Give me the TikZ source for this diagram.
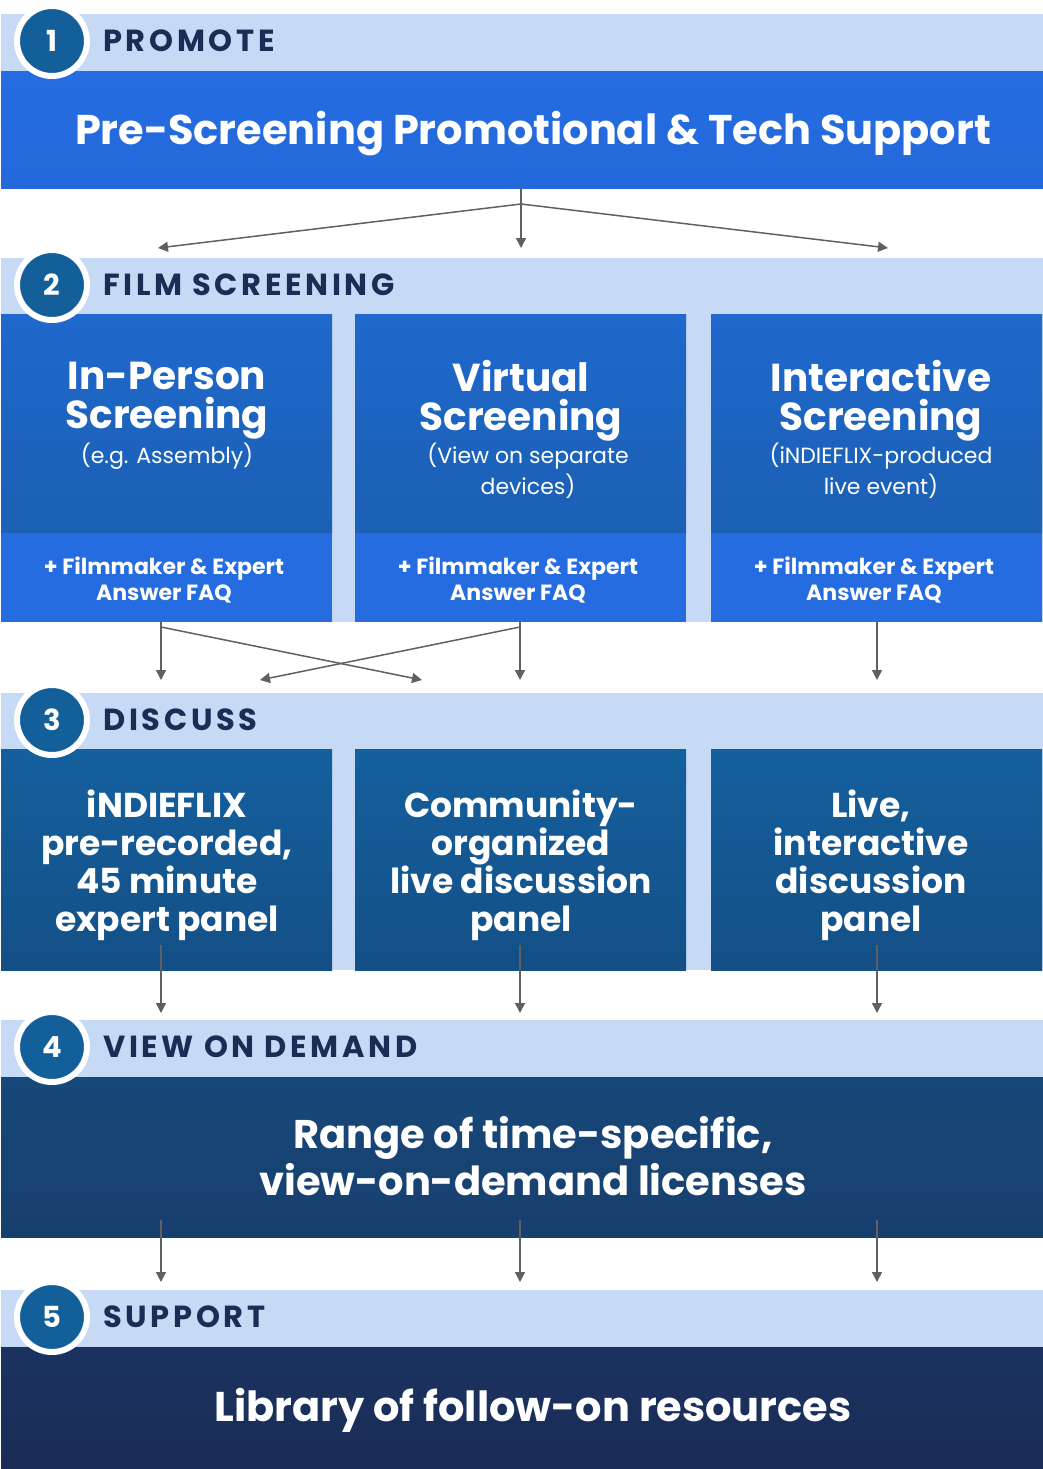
\documentclass[tikz,border=0pt]{standalone}
\usepackage{fontspec}
\setmainfont{Poppins}
\usepackage{tikz}
\usetikzlibrary{arrows.meta,positioning,calc}
\definecolor{bandblue}{HTML}{C6D9F5}
\definecolor{brightblue}{HTML}{256CE1}
\definecolor{brighttop}{HTML}{256CE1}
\definecolor{brightbot}{HTML}{2369DB}
\definecolor{scrtop}{HTML}{1F68CD}
\definecolor{scrbot}{HTML}{1B60B3}
\definecolor{paneltop}{HTML}{14609E}
\definecolor{panelbot}{HTML}{144F86}
\definecolor{vodtop}{HTML}{17487A}
\definecolor{vodbot}{HTML}{173F6D}
\definecolor{suptop}{HTML}{1B3261}
\definecolor{supbot}{HTML}{1A2C55}
\definecolor{numblue}{HTML}{135F99}
\definecolor{navy}{HTML}{1B2D55}
\definecolor{arrowgray}{HTML}{606060}
\tikzset{
  band/.style={
    rectangle, fill=bandblue, anchor=north west,
    minimum width=1042pt, inner sep=0pt
  },
  widebox/.style={
    rectangle, top color=#1top, bottom color=#1bot, anchor=north west,
    minimum width=1042pt, inner sep=0pt
  },
  colbox/.style={
    rectangle, top color=#1top, bottom color=#1bot, anchor=north west,
    minimum width=331pt, inner sep=0pt
  },
  faqbox/.style={
    rectangle, fill=brightblue, anchor=north west,
    minimum width=331pt, minimum height=89pt, inner sep=0pt
  },
  stepnum/.style={
    circle, fill=numblue, draw=white, line width=6pt,
    minimum size=70pt, inner sep=0pt,
    text=white, font=\fontsize{29}{29}\selectfont\bfseries
  },
  stephead/.style={
    anchor=west, inner sep=0pt, text=navy,
    font=\fontsize{30.5}{30}\selectfont\bfseries\addfontfeatures{LetterSpace=12}
  },
  bigtext/.style={
    text=white, align=center, inner sep=0pt,
    font=\fontsize{#1}{47}\selectfont\bfseries
  },
  bigtext/.default=41.5,
  coltitle/.style={
    text=white, align=center, inner sep=0pt,
    font=\fontsize{39}{39}\selectfont\bfseries
  },
  colsub/.style={
    text=white, align=center, inner sep=0pt,
    font=\fontsize{22}{31}\selectfont
  },
  faqtext/.style={
    text=white, align=center, inner sep=0pt,
    font=\fontsize{22}{26}\selectfont\bfseries
  },
  paneltext/.style={
    text=white, align=center, inner sep=0pt,
    font=\fontsize{34.5}{38}\selectfont\bfseries
  },
  flow/.style={
    -{Triangle[length=10pt,width=10pt]}, line width=1.5pt, draw=arrowgray
  },
}

\begin{document}
\begin{tikzpicture}[x=1pt,y=-1pt]
  \useasboundingbox (0,0) rectangle (1043,1469);

  \node[band, minimum height=57pt] (band1) at (1,14) {};
  \node[band, minimum height=364pt] (band2) at (1,258) {};
  \node[band, minimum height=277pt] (band3) at (1,693) {};
  \node[band, minimum height=57pt] (band4) at (1,1020) {};
  \node[band, minimum height=57pt] (band5) at (1,1290) {};

  % step 1
  \node[widebox=bright, minimum height=117pt] (promote) at (1,71) {};
  \node[bigtext] (promotetxt) at (533,134) {Pre-Screening Promotional \& Tech Support};

  % step 2
  \node[colbox=scr, minimum height=219pt] (scrA) at (1,314) {};
  \node[colbox=scr, minimum height=219pt] (scrB) at (355,314) {};
  \node[colbox=scr, minimum height=219pt] (scrC) at (711,314) {};
  \node[coltitle] (titA) at (167,401) {In-Person\\Screening};
  \node[coltitle] (titB) at (521,401) {Virtual\\Screening};
  \node[coltitle] (titC) at (881,401) {Interactive\\Screening};
  \node[colsub] (subA) at (167,456) {(e.g. Assembly)};
  \node[colsub] (subB) at (528,471) {(View on separate\\devices)};
  \node[colsub] (subC) at (881,471) {(iNDIEFLIX-produced\\live event)};
  \node[faqbox] (faqA) at (1,533) {};
  \node[faqbox] (faqB) at (355,533) {};
  \node[faqbox] (faqC) at (711,533) {};
  \node[faqtext] (faqtxtA) at (164,580) {+ Filmmaker \& Expert\\Answer FAQ};
  \node[faqtext] (faqtxtB) at (518,580) {+ Filmmaker \& Expert\\Answer FAQ};
  \node[faqtext] (faqtxtC) at (874,580) {+ Filmmaker \& Expert\\Answer FAQ};

  % step 3
  \node[colbox=panel, minimum height=221pt] (panelA) at (1,749) {};
  \node[colbox=panel, minimum height=221pt] (panelB) at (355,749) {};
  \node[colbox=panel, minimum height=221pt] (panelC) at (711,749) {};
  \node[paneltext] (paneltxtA) at (167,865) {iNDIEFLIX\\pre-recorded,\\45 minute\\expert panel};
  \node[paneltext] (paneltxtB) at (521,865) {Community-\\organized\\live discussion\\panel};
  \node[paneltext] (paneltxtC) at (871,865) {Live,\\interactive\\discussion\\panel};

  % step 4
  \node[widebox=vod, minimum height=160pt] (vod) at (1,1077) {};
  \node[bigtext=40] (vodtxt) at (533,1156) {Range of time-specific,\\view-on-demand licenses};

  % step 5
  \node[widebox=sup, minimum height=123pt] (support) at (1,1347) {};
  \node[bigtext] (supporttxt) at (533,1410) {Library of follow-on resources};

  \foreach \n/\y/\t in {1/41/PROMOTE, 2/285/FILM SCREENING, 3/720/DISCUSS,
                        4/1047/VIEW ON DEMAND, 5/1317/SUPPORT} {
    \node[stepnum] (num\n) at (52,\y) {\n};
    \node[stephead] (head\n) at (103,\y) {\t};
  }

  % arrows
  \coordinate (hub) at (521,204);
  \coordinate (in2A) at (158,248);
  \coordinate (in2B) at (521,248);
  \coordinate (in2C) at (888,248);
  \draw[flow] (promote.south -| in2B) -- (in2B);
  \draw[flow] (hub) -- (in2A);
  \draw[flow] (hub) -- (in2C);

  \coordinate (outA) at (161,627);
  \coordinate (outB) at (520,627);
  \coordinate (in3A) at (161,680);
  \coordinate (in3AB) at (260,680);
  \coordinate (in3BA) at (422,680);
  \coordinate (in3B) at (520,680);
  \coordinate (in3C) at (877,680);
  \draw[flow] (faqA.south -| in3A) -- (in3A);
  \draw[flow] (faqB.south -| in3B) -- (in3B);
  \draw[flow] (faqC.south -| in3C) -- (in3C);
  \draw[flow] (outA) -- (in3BA);
  \draw[flow] (outB) -- (in3AB);

  \foreach \x/\s in {161/A, 520/B, 877/C} {
    \coordinate (out3\s) at (\x,945);
    \coordinate (in4\s) at (\x,1013);
    \draw[flow] (out3\s) -- (in4\s);
    \coordinate (out4\s) at (\x,1220);
    \coordinate (in5\s) at (\x,1282);
    \draw[flow] (out4\s) -- (in5\s);
  }
\end{tikzpicture}
\end{document}
